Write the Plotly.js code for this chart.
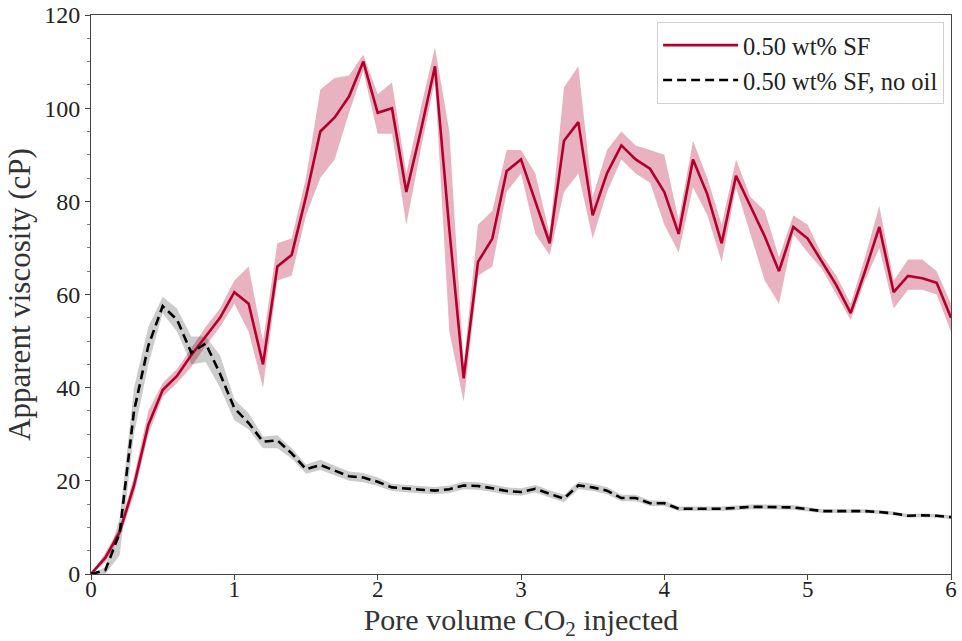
<!DOCTYPE html>
<html><head><meta charset="utf-8">
<script src="https://cdn.plot.ly/plotly-3.0.1.min.js"></script>
<style>html,body{margin:0;padding:0;background:#fff}</style>
</head><body><div id="chart" style="width:962px;height:641px"></div>
<script>
const pv = [0,0.1,0.2,0.3,0.4,0.5,0.6,0.7,0.8,0.9,1.0,1.1,1.2,1.3,1.4,1.5,1.6,1.7,1.8,1.9,2.0,2.1,2.2,2.3,2.4,2.5,2.6,2.7,2.8,2.9,3.0,3.1,3.2,3.3,3.4,3.5,3.6,3.7,3.8,3.9,4.0,4.1,4.2,4.3,4.4,4.5,4.6,4.7,4.8,4.9,5.0,5.1,5.2,5.3,5.4,5.5,5.6,5.7,5.8,5.9,6.0];

const sfMean = [0,3.5,9,19,32,39.5,42.5,47,51,55,60.5,58,45,66,68.5,81,95,98,102.5,110,99,100,82,95,109,74,42,67,72,86.5,89,80,71,93,97,77,86,92,89,87,82,73,89,81.5,71,85.5,79,72.5,65,74.5,72,67,62,56,65,74.5,60.5,64,63.5,62.5,55];
const sfLow  = [0,2.5,8,17,30,38,41,44.5,49,53,58,52,40,63,64,77,85,89,99,108,94.5,94.5,75,91,106,52,37,64,66,82,86,73,68.5,82,86,72,82,89,86,84,75,69,83,77,67,83,73,63,58,73,69,65.5,60,54.5,63,70,57,61,61,60,52];
const sfHigh = [0,4.5,10,21,35,41,44,48.5,53,57,63,66,50,71,72,85,104,106.5,107,111.5,103,105.5,86,100,113,95,45,75,78,91,91,86,73,104.5,109,81,91,95,92,91,90,76,93,85,75,89,81,78,68,77,75,68.5,64,58,68,79,63,67.5,67.5,65,58];

const noOilMean = [0,0.8,8.8,35,49,57.5,54.6,47.5,49.5,43,35.6,32.4,28.4,28.7,25.9,22.5,23.4,22.2,21,20.7,19.8,18.6,18.3,18.1,17.9,18.2,19,18.9,18.4,17.8,17.6,18.3,17.2,16.2,19,18.6,17.9,16.3,16.3,15.2,15.2,14,14,14,14,14.2,14.4,14.4,14.3,14.3,13.9,13.5,13.5,13.5,13.5,13.3,13,12.5,12.6,12.5,12.2];
const noOilLow  = [0,0,4,30,45,56,52,45,45.5,40,33,31,27,27,24.8,21.5,22.3,21.2,20,19.7,18.9,17.8,17.5,17.3,17.1,17.4,18.2,18.1,17.6,17,16.8,17.5,16.4,15.4,18.2,17.8,17.1,15.6,15.6,14.6,14.6,13.5,13.5,13.5,13.5,13.7,13.9,13.9,13.8,13.8,13.4,13.1,13.1,13.1,13.1,12.9,12.6,12.1,12.2,12.1,11.8];
const noOilHigh = [0,1.5,12,40,53,59.5,57,51,51,47,37.5,34.5,29.5,29.8,27,23.5,24.5,23.2,22,21.7,20.7,19.4,19.1,18.9,18.7,19,19.8,19.7,19.2,18.6,18.4,19.1,18,17,19.8,19.4,18.7,17,17,15.8,15.8,14.5,14.5,14.5,14.5,14.7,14.9,14.9,14.8,14.8,14.4,13.9,13.9,13.9,13.9,13.7,13.4,12.9,13,12.9,12.6];

const seriesNames = ['0.50 wt% SF', '0.50 wt% SF, no oil'];
const xTicks = [0,1,2,3,4,5,6];
const yTicks = [0,20,40,60,80,100,120];

const red = '#b2002d';
const FONT = '"Liberation Serif", "Times New Roman", serif';

const traces = [
  {x: pv, y: sfLow, mode:'lines', line:{width:0, color:red}, showlegend:false, hoverinfo:'skip'},
  {x: pv, y: sfHigh, mode:'lines', line:{width:0, color:red}, fill:'tonexty', fillcolor:'rgba(178,0,45,0.3)', showlegend:false, hoverinfo:'skip'},
  {x: pv, y: noOilLow, mode:'lines', line:{width:0, color:'#000'}, showlegend:false, hoverinfo:'skip'},
  {x: pv, y: noOilHigh, mode:'lines', line:{width:0, color:'#000'}, fill:'tonexty', fillcolor:'rgba(0,0,0,0.2)', showlegend:false, hoverinfo:'skip'},
  {x: pv, y: sfMean, mode:'lines', name: seriesNames[0], line:{color:red, width:2.6}},
  {x: pv, y: noOilMean, mode:'lines', name: seriesNames[1], line:{color:'#000', width:2.6, dash:'9px,5px'}}
];

const layout = {
  width: 962, height: 641,
  margin: {l: 91, r: 11, t: 15, b: 67},
  paper_bgcolor: '#fff', plot_bgcolor: '#fff',
  font: {family: FONT, size: 24, color: '#222'},
  xaxis: {
    range: [0, 6], tickvals: xTicks,
    ticks: 'outside', ticklen: 5, tickcolor: '#444', showgrid: false, zeroline: false,
    showline: true, linecolor: '#444', linewidth: 1, mirror: true,
    tickfont: {family: FONT, size: 23, color: '#222'}, ticklabelstandoff: -11,
    title: {text: 'Pore volume CO<sub>2</sub> injected', font: {family: FONT, size: 30, color: '#333'}, standoff: 24}
  },
  yaxis: {
    range: [0, 120], tickvals: yTicks,
    ticks: 'outside', ticklen: 5, tickcolor: '#444', showgrid: false, zeroline: false,
    showline: true, linecolor: '#444', linewidth: 1, mirror: true,
    minor: {dtick: 5, ticks: 'outside', ticklen: 3, tickcolor: '#777', showgrid: false},
    tickfont: {family: FONT, size: 24, color: '#222'},
    title: {text: 'Apparent viscosity (cP)', font: {family: FONT, size: 31, color: '#333'}, standoff: 4}
  },
  legend: {
    x: 0.992, y: 0.988, xanchor: 'right', yanchor: 'top', traceorder: 'normal',
    bgcolor: 'rgba(255,255,255,0.9)', bordercolor: '#d0d0d0', borderwidth: 1,
    font: {family: FONT, size: 24.5, color: '#222'}, itemwidth: 75
  },
  showlegend: true
};

Plotly.newPlot('chart', traces, layout, {displayModeBar: false, staticPlot: true});
</script>
</body></html>
